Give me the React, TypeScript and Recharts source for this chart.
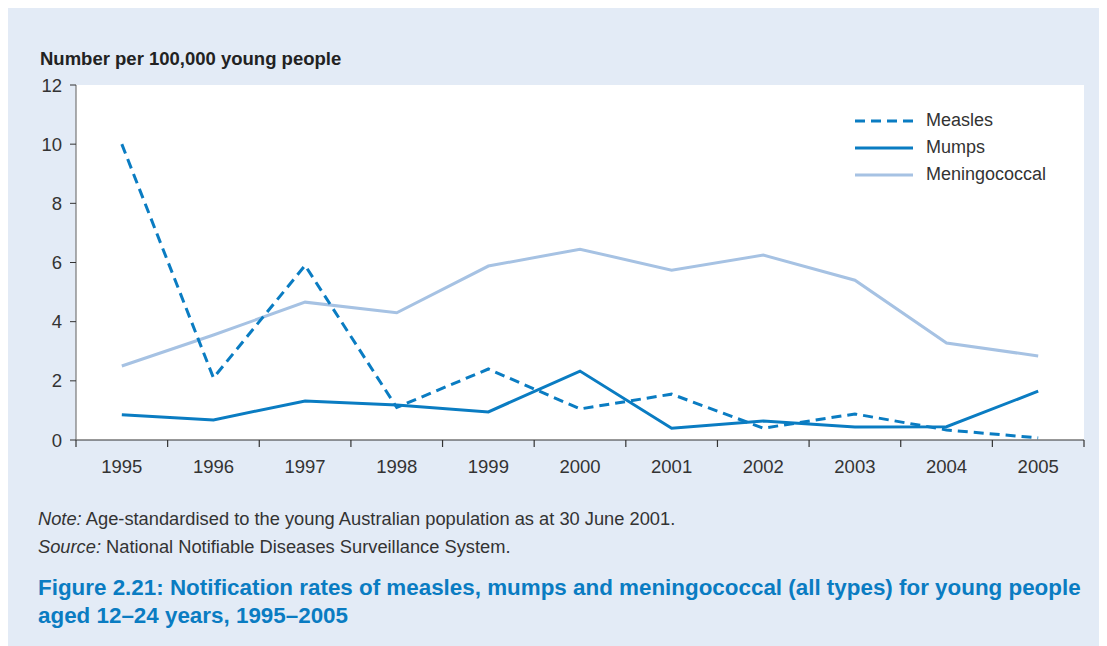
import { LineChart, Line, XAxis, YAxis, CartesianGrid } from 'recharts';

const years = [1995, 1996, 1997, 1998, 1999, 2000, 2001, 2002, 2003, 2004, 2005];
const measles = [10, 2.1, 5.9, 1.1, 2.4, 1.05, 1.55, 0.4, 0.88, 0.34, 0.07];
const mumps = [0.85, 0.68, 1.32, 1.18, 0.95, 2.33, 0.4, 0.64, 0.44, 0.45, 1.65];
const meningococcal = [2.5, 3.55, 4.66, 4.3, 5.88, 6.45, 5.74, 6.25, 5.4, 3.28, 2.84];
const yTicks = [0, 2, 4, 6, 8, 10, 12];

const data = years.map((year, i) => ({
  year,
  measles: measles[i],
  mumps: mumps[i],
  meningococcal: meningococcal[i],
}));

// tick marks sit between the years, not under them
const boundaryTicks = [...years.map((y) => y - 0.5), years[years.length - 1] + 0.5];
const xDomain = [years[0] - 0.5, years[years.length - 1] + 0.5];

const BLUE = '#0a7cc2';
const LIGHT = '#a6c2e3';
const FONT = '"Liberation Sans", Arial, Helvetica, sans-serif';

const legendItems = [
  { name: 'Measles', color: BLUE, dash: '10 6' },
  { name: 'Mumps', color: BLUE, dash: undefined },
  { name: 'Meningococcal', color: LIGHT, dash: undefined },
];

function ChartLegend() {
  return (
    <div
      style={{
        position: 'absolute',
        left: 845,
        top: 99,
        fontSize: 18,
        color: '#333',
      }}
    >
      {legendItems.map((item) => (
        <div key={item.name} style={{ display: 'flex', alignItems: 'center', height: 27 }}>
          <svg width={62} height={6} style={{ marginRight: 11 }}>
            <line
              x1={2}
              y1={3}
              x2={60}
              y2={3}
              stroke={item.color}
              strokeWidth={3}
              strokeDasharray={item.dash}
            />
          </svg>
          <span>{item.name}</span>
        </div>
      ))}
    </div>
  );
}

function BlankTick() {
  return <g />;
}

export default function App() {
  return (
    <div
      style={{
        position: 'relative',
        width: 1092,
        height: 639,
        background: '#e3ebf6',
        fontFamily: FONT,
        color: '#333',
      }}
    >
      <div
        style={{
          position: 'absolute',
          left: 32,
          top: 40,
          fontSize: 18.5,
          fontWeight: 'bold',
          color: '#222',
        }}
      >
        Number per 100,000 young people
      </div>

      <div style={{ position: 'absolute', left: 0, top: 0 }}>
        <LineChart
          width={1092}
          height={480}
          data={data}
          margin={{ top: 77, right: 16, bottom: 18, left: 0 }}
        >
          <CartesianGrid horizontal={false} vertical={false} stroke="none" fill="#ffffff" />
          <XAxis
            xAxisId="b-labels"
            dataKey="year"
            type="number"
            domain={xDomain}
            ticks={years}
            interval={0}
            height={29}
            axisLine={false}
            tickLine={false}
            tickMargin={13}
            tick={{ fontSize: 18.5, fill: '#333', fontFamily: FONT }}
          />
          <XAxis
            xAxisId="a-marks"
            dataKey="year"
            type="number"
            domain={xDomain}
            ticks={boundaryTicks}
            interval={0}
            tick={<BlankTick />}
            height={1}
            tickSize={7}
            axisLine={{ stroke: '#333', strokeWidth: 1.2 }}
            tickLine={{ stroke: '#333', strokeWidth: 1.2 }}
          />
          <YAxis
            width={68}
            domain={[0, 12]}
            ticks={yTicks}
            interval={0}
            tickSize={6}
            tickMargin={8}
            axisLine={{ stroke: '#777', strokeWidth: 1.2 }}
            tickLine={{ stroke: '#333', strokeWidth: 1 }}
            tick={{ fontSize: 18.5, fill: '#333', fontFamily: FONT }}
          />
          <Line
            xAxisId="b-labels"
            dataKey="meningococcal"
            stroke={LIGHT}
            strokeWidth={3}
            dot={false}
            isAnimationActive={false}
          />
          <Line
            xAxisId="b-labels"
            dataKey="mumps"
            stroke={BLUE}
            strokeWidth={3}
            dot={false}
            isAnimationActive={false}
          />
          <Line
            xAxisId="b-labels"
            dataKey="measles"
            stroke={BLUE}
            strokeWidth={3}
            strokeDasharray="10 6"
            dot={false}
            isAnimationActive={false}
          />
        </LineChart>
      </div>

      <ChartLegend />

      <div style={{ position: 'absolute', left: 30, top: 497, fontSize: 18.3, lineHeight: '28px' }}>
        <div>
          <i>Note:</i> Age-standardised to the young Australian population as at 30 June 2001.
        </div>
        <div>
          <i>Source:</i> National Notifiable Diseases Surveillance System.
        </div>
      </div>

      <div
        style={{
          position: 'absolute',
          left: 30,
          top: 566,
          fontSize: 22.4,
          lineHeight: '28px',
          fontWeight: 'bold',
          color: '#0a7cc2',
        }}
      >
        Figure 2.21: Notification rates of measles, mumps and meningococcal (all types) for young people
        <br />
        aged 12–24 years, 1995–2005
      </div>
    </div>
  );
}
